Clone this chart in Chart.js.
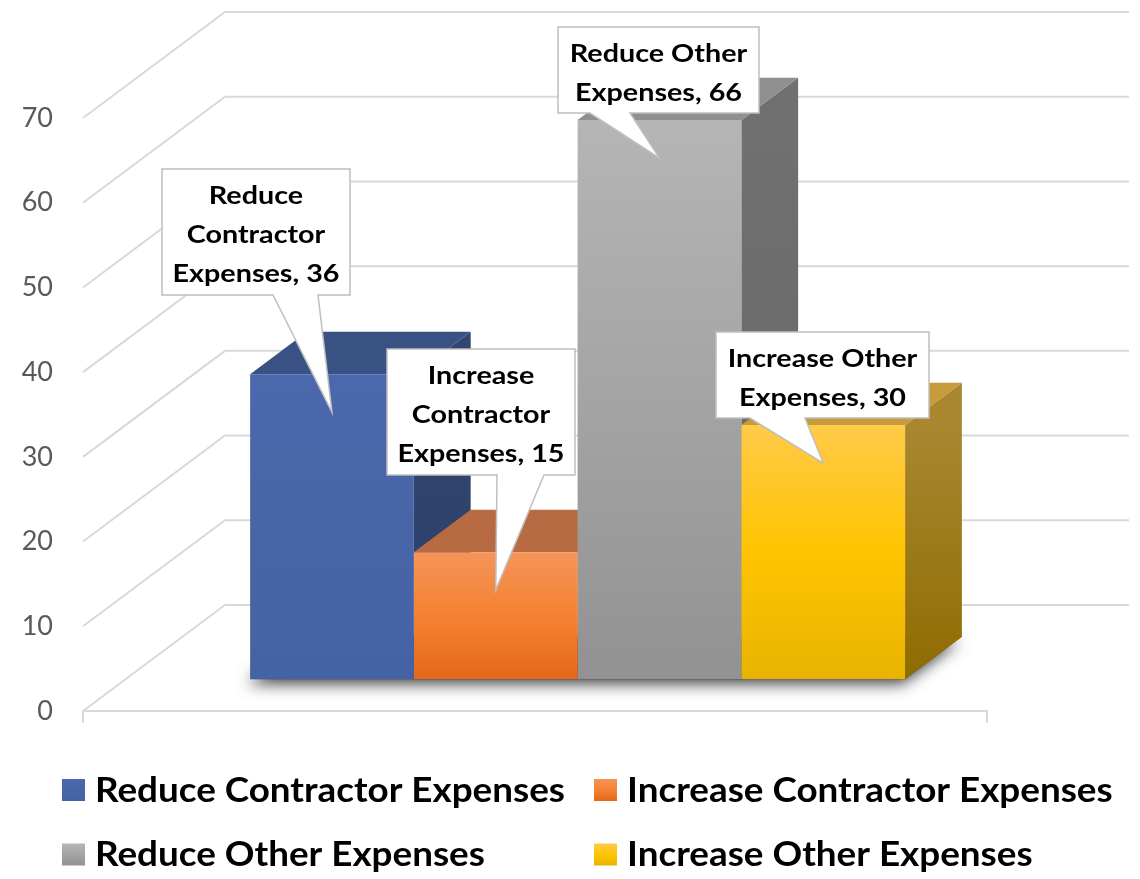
<!DOCTYPE html>
<html><head><meta charset="utf-8">
<script src="https://cdn.jsdelivr.net/npm/chart.js@4.4.1/dist/chart.umd.min.js"></script>
<style>html,body{margin:0;padding:0;background:#fff}#wrap{width:1140px;height:879px}</style>
</head><body><div id="wrap"><canvas id="c" width="1140" height="879"></canvas></div>
<script>
// ---- data ----
const categories = ['Expenses'];
const seriesNames = ['Reduce Contractor Expenses', 'Increase Contractor Expenses', 'Reduce Other Expenses', 'Increase Other Expenses'];
const seriesValues = [36, 15, 66, 30];
const yTickValues = [0, 10, 20, 30, 40, 50, 60, 70];

// ---- styles ----
const frontStops = [
  ['#4a68ab', '#4865a8', '#4562a4'],
  ['#f59459', '#f58232', '#e4681a'],
  ['#b5b5b5', '#a4a4a4', '#929292'],
  ['#ffca49', '#ffc400', '#e8b400']
];
const topColors = ['#3a5283', '#b86b42', '#8f8f8f', '#c69c3a'];
const sideStops = [['#30456f', '#2d416a'], ['#a85a2c', '#9a4f22'], ['#707070', '#666666'], ['#a98731', '#8f6c00']];
const gridColor = '#d9d9d9';
const DEPTH = {dx: 142, dy: -106};
const BAR_FRONT = 0.30, BAR_DEPTH = 0.40;
const OX = DEPTH.dx * BAR_FRONT, OY = DEPTH.dy * BAR_FRONT;
const DDX = DEPTH.dx * BAR_DEPTH, DDY = DEPTH.dy * BAR_DEPTH;
const FONT = 'Lato';
const CAP = 0.7165;
const calloutBoxes = [
  {x: 162, y: 169, w: 188, h: 126, b0: 273, b1: 318},
  {x: 387, y: 349, w: 188, h: 126, b0: 497, b1: 544},
  {x: 558, y: 27, w: 201, h: 86, b0: 590, b1: 630},
  {x: 716, y: 332, w: 213, h: 86, b0: 750, b1: 805}
];
const legendPos = [{x: 62, y: 790}, {x: 594, y: 790}, {x: 62, y: 854.5}, {x: 594, y: 854.5}];

function frontFill(c) {
  const i = c.datasetIndex;
  const chart = c.chart, ya = chart.scales.y;
  if (!chart.chartArea || !ya) return frontStops[i][1];
  const v = chart.data.datasets[i].data[c.dataIndex];
  const top = ya.getPixelForValue(v), bot = ya.getPixelForValue(0);
  const g = chart.ctx.createLinearGradient(0, top, 0, bot);
  g.addColorStop(0, frontStops[i][0]); g.addColorStop(0.5, frontStops[i][1]); g.addColorStop(1, frontStops[i][2]);
  return g;
}

function barBoxes(chart) {
  return chart.data.datasets.map((ds, i) => {
    const el = chart.getDatasetMeta(i).data[0];
    const L = el.x - el.width / 2 + OX, R = el.x + el.width / 2 + OX;
    return {L, R, T: el.y + OY, B: el.base + OY, cx: el.x + OX};
  });
}
function poly(ctx, pts) { ctx.beginPath(); ctx.moveTo(pts[0][0], pts[0][1]); for (let k = 1; k < pts.length; k++) ctx.lineTo(pts[k][0], pts[k][1]); ctx.closePath(); }

// font sized by cap height, horizontally scaled to a target width
function textStyle(ctx, capH, sample, targetW) {
  const size = capH / CAP;
  ctx.font = 'bold ' + size + 'px ' + FONT;
  const sx = targetW / ctx.measureText(sample).width;
  return {size, sx};
}
function drawText(ctx, st, text, x, y, align) {
  ctx.save();
  ctx.font = 'bold ' + st.size + 'px ' + FONT;
  ctx.translate(x, y); ctx.scale(st.sx, 1);
  ctx.textAlign = align; ctx.textBaseline = 'alphabetic';
  ctx.fillText(text, 0, 0);
  ctx.restore();
}
function wrap(ctx, st, text, maxW) {
  ctx.font = 'bold ' + st.size + 'px ' + FONT;
  const words = text.split(' '); const lines = []; let cur = '';
  for (const w of words) {
    const t = cur ? cur + ' ' + w : w;
    if (ctx.measureText(t).width * st.sx > maxW && cur) { lines.push(cur); cur = w; } else cur = t;
  }
  if (cur) lines.push(cur);
  return lines;
}

const plugin3d = {
  id: 'bars3d',
  beforeDatasetsDraw(chart) {
    const ctx = chart.ctx, a = chart.chartArea, ya = chart.scales.y;
    ctx.save();
    ctx.strokeStyle = gridColor; ctx.lineWidth = 2;
    for (const t of ya.ticks) {
      const y = ya.getPixelForValue(t.value);
      ctx.beginPath(); ctx.moveTo(a.left, y); ctx.lineTo(a.left + DEPTH.dx, y + DEPTH.dy); ctx.lineTo(a.right + DEPTH.dx, y + DEPTH.dy); ctx.stroke();
    }
    const y0 = ya.getPixelForValue(0);
    ctx.beginPath(); ctx.moveTo(a.left, y0 + 12); ctx.lineTo(a.left, y0); ctx.lineTo(a.right, y0); ctx.lineTo(a.right, y0 + 12); ctx.stroke();
    const bx = barBoxes(chart);
    const f = bx[0], l = bx[bx.length - 1];
    // floor shadow
    ctx.save();
    ctx.shadowColor = 'rgba(0,0,0,0.8)'; ctx.shadowBlur = 16; ctx.shadowOffsetX = -3; ctx.shadowOffsetY = 4;
    ctx.fillStyle = '#444';
    poly(ctx, [[f.L, f.B], [l.R, f.B], [l.R + DDX, f.B + DDY], [f.L + DDX, f.B + DDY]]);
    ctx.fill();
    ctx.restore();
    bx.forEach((b, i) => {
      const sg = ctx.createLinearGradient(0, b.T, 0, b.B);
      sg.addColorStop(0, sideStops[i][0]); sg.addColorStop(1, sideStops[i][1]);
      ctx.fillStyle = sg;
      poly(ctx, [[b.R, b.T], [b.R + DDX, b.T + DDY], [b.R + DDX, b.B + DDY], [b.R, b.B]]); ctx.fill();
      ctx.fillStyle = topColors[i];
      poly(ctx, [[b.L, b.T], [b.R, b.T], [b.R + DDX, b.T + DDY], [b.L + DDX, b.T + DDY]]); ctx.fill();
    });
    ctx.restore();
    ctx.save();
    ctx.translate(OX, OY);
  },
  afterDatasetsDraw(chart) { chart.ctx.restore(); },
  afterDraw(chart) {
    const ctx = chart.ctx;
    const bx = barBoxes(chart);
    ctx.save();
    // callouts
    const cst = textStyle(ctx, 17.5, 'Expenses, 36', 167);
    chart.data.datasets.forEach((ds, i) => {
      const b = bx[i], c = calloutBoxes[i];
      const tip = [b.cx, b.T + 38];
      ctx.beginPath();
      ctx.moveTo(c.x, c.y); ctx.lineTo(c.x + c.w, c.y); ctx.lineTo(c.x + c.w, c.y + c.h);
      ctx.lineTo(c.b1, c.y + c.h); ctx.lineTo(tip[0], tip[1]); ctx.lineTo(c.b0, c.y + c.h);
      ctx.lineTo(c.x, c.y + c.h); ctx.closePath();
      ctx.fillStyle = '#ffffff'; ctx.fill();
      ctx.strokeStyle = '#bfbfbf'; ctx.lineWidth = 1.5; ctx.stroke();
      ctx.fillStyle = '#000';
      const lines = wrap(ctx, cst, ds.label + ', ' + ds.data[0], c.w - 2);
      lines.forEach((ln, k) => drawText(ctx, cst, ln, c.x + c.w / 2, c.y + 34.5 + k * 39, 'center'));
    });
    // legend
    const lst = textStyle(ctx, 24, seriesNames[0], 470);
    chart.data.datasets.forEach((ds, i) => {
      const p = legendPos[i];
      const g = ctx.createLinearGradient(0, p.y - 11, 0, p.y + 11);
      g.addColorStop(0, frontStops[i][0]); g.addColorStop(0.5, frontStops[i][1]); g.addColorStop(1, frontStops[i][2]);
      ctx.fillStyle = g;
      ctx.fillRect(p.x, p.y - 11, 23, 22);
      ctx.fillStyle = '#000';
      drawText(ctx, lst, ds.label, p.x + 33, p.y + 11.5, 'left');
    });
    ctx.restore();
  }
};

new Chart(document.getElementById('c'), {
  type: 'bar',
  data: {
    labels: categories,
    datasets: seriesNames.map((n, i) => ({
      label: n, data: [seriesValues[i]],
      backgroundColor: frontFill, borderWidth: 0,
      categoryPercentage: 0.7245, barPercentage: 1.0
    }))
  },
  options: {
    responsive: false, animation: false, events: [],
    layout: {padding: {top: 118, bottom: 168, left: 0, right: 153}},
    plugins: {legend: {display: false}, tooltip: {enabled: false}},
    scales: {
      x: {display: false},
      y: {
        min: 0, max: 70,
        afterBuildTicks(s) { s.ticks = yTickValues.map(v => ({value: v})); },
        afterFit(s) { s.width = 83; },
        ticks: {padding: 30, color: '#595959', font: {family: FONT, size: 27}},
        grid: {display: false, drawTicks: false},
        border: {display: false}
      }
    }
  },
  plugins: [plugin3d]
});
</script></body></html>
